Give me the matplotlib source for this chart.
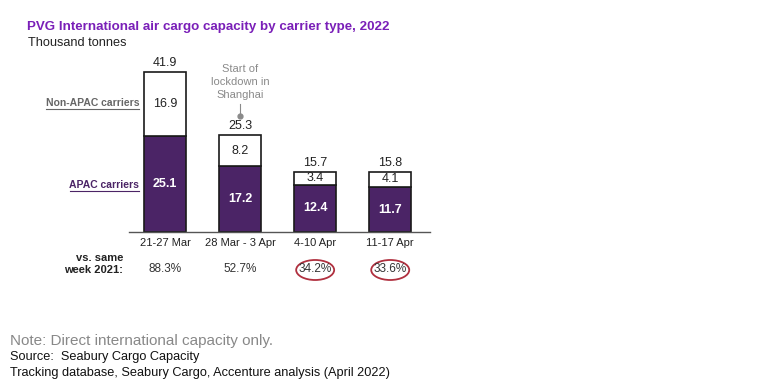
import matplotlib.pyplot as plt
from matplotlib.patches import Ellipse
from matplotlib.lines import Line2D

plt.rcParams['font.family'] = ['Liberation Sans', 'DejaVu Sans']

weeks = ['21-27 Mar', '28 Mar - 3 Apr', '4-10 Apr', '11-17 Apr']
apac = [25.1, 17.2, 12.4, 11.7]
non_apac = [16.9, 8.2, 3.4, 4.1]
totals = [41.9, 25.3, 15.7, 15.8]
vs_2021 = ['88.3%', '52.7%', '34.2%', '33.6%']
circled = [False, False, True, True]

purple = '#4b2466'
title_purple = '#7a1fb8'
gray = '#8a8a8a'

fig = plt.figure(figsize=(7.71, 3.89), dpi=100)
ax = fig.add_axes([129/771, 157/389, 301/771, 191/389])

x = list(range(len(weeks)))
w = 0.56
ax.bar(x, apac, w, color=purple, edgecolor='#1a1a1a', linewidth=1.2)
ax.bar(x, non_apac, w, bottom=apac, color='white', edgecolor='#1a1a1a', linewidth=1.2)

for i in x:
    ax.text(i, apac[i] / 2, f'{apac[i]}', ha='center', va='center', color='white', fontsize=9, fontweight='bold')
    ax.text(i, apac[i] + non_apac[i] / 2, f'{non_apac[i]}', ha='center', va='center', color='#222222', fontsize=9)
    ax.text(i, totals[i] + 0.8, f'{totals[i]}', ha='center', va='bottom', color='#222222', fontsize=9)

ax.set_xlim(-0.48, 3.53)
ax.set_ylim(0, 50)
for s in ['top', 'right', 'left']:
    ax.spines[s].set_visible(False)
ax.spines['bottom'].set_color('#555555')
ax.spines['bottom'].set_linewidth(1.0)
ax.set_yticks([])
ax.set_xticks(x)
ax.set_xticklabels(weeks, fontsize=8, color='#222222')
ax.tick_params(axis='x', length=0, pad=4)

# vs same week row
for i in x:
    xf = fig.transFigure.inverted().transform(ax.transData.transform((i, 0)))
    fig.text(xf[0], 1 - 269/389, vs_2021[i], ha='center', va='center', fontsize=8.5, color='#333333')
    if circled[i]:
        fig.patches.append(Ellipse((xf[0], 1 - 270/389), 38/771, 20/389, transform=fig.transFigure,
                                   fill=False, edgecolor='#b0303f', linewidth=1.3))

fig.text(123/771, 1 - 258/389, 'vs. same', ha='right', va='center', fontsize=8, fontweight='bold', color='#222222')
fig.text(123/771, 1 - 270/389, 'week 2021:', ha='right', va='center', fontsize=8, fontweight='bold', color='#222222')

# carrier labels (underlined)
fig.text(139/771, 1 - 103/389, 'Non-APAC carriers', ha='right', va='center', fontsize=7.5,
         fontweight='bold', color='#666666')
fig.text(139/771, 1 - 185/389, 'APAC carriers', ha='right', va='center', fontsize=7.5,
         fontweight='bold', color=purple)
fig.add_artist(Line2D([46/771, 139/771], [1 - 109/389, 1 - 109/389], color='#666666', linewidth=0.8))
fig.add_artist(Line2D([70/771, 139/771], [1 - 191/389, 1 - 191/389], color=purple, linewidth=0.8))

# annotation
ax.text(1, 34.6, 'Start of\nlockdown in\nShanghai', ha='center', va='bottom', fontsize=8,
        color=gray, linespacing=1.35)
ax.plot([1, 1], [30.4, 33.4], color=gray, linewidth=0.8)
ax.plot([1], [30.4], 'o', color=gray, markersize=3.5)

fig.text(27/771, 1 - 27/389, 'PVG International air cargo capacity by carrier type, 2022', ha='left', va='center',
         fontsize=9.6, fontweight='bold', color=title_purple)
fig.text(28/771, 1 - 43/389, 'Thousand tonnes', ha='left', va='center', fontsize=9.2, color='#222222')

fig.text(10/771, 1 - 341/389, 'Note: Direct international capacity only.', ha='left', va='center',
         fontsize=11, color='#888888')
fig.text(10/771, 1 - 357/389, 'Source:  Seabury Cargo Capacity', ha='left', va='center',
         fontsize=9.2, color='#111111')
fig.text(10/771, 1 - 373/389, 'Tracking database, Seabury Cargo, Accenture analysis (April 2022)', ha='left',
         va='center', fontsize=9.2, color='#111111')

fig.savefig('out.png', dpi=100, facecolor='white')
